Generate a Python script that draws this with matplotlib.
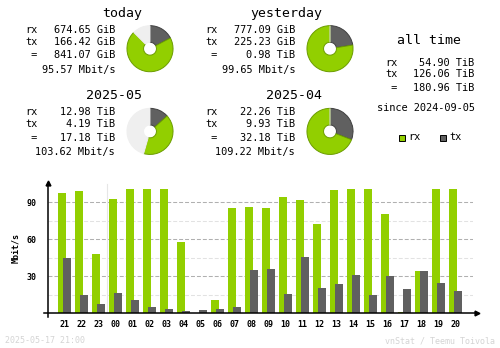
import matplotlib
matplotlib.use('Agg')
from matplotlib import pyplot as plt
import numpy as np

# summary periods
periods   = ['today', 'yesterday', '2025-05', '2025-04']
rx_vals   = [674.65, 777.09, 12.98, 22.26]
tx_vals   = [166.42, 225.23, 4.19, 9.93]
units     = ['GiB', 'GiB', 'TiB', 'TiB']
tot_vals  = [841.07, 0.98, 17.18, 32.18]
tot_units = ['GiB', 'TiB', 'TiB', 'TiB']
rates     = [95.57, 99.65, 103.62, 109.22]
elapsed   = [21/24, 1.0, (16 + 21/24)/31, 1.0]      # share of the period already passed

# all time
all_rx, all_tx, all_tot = 54.90, 126.06, 180.96
since = '2024-09-05'

# hourly average rates (Mbit/s)
hours   = ['21', '22', '23', '00', '01', '02', '03', '04', '05', '06', '07', '08',
           '09', '10', '11', '12', '13', '14', '15', '16', '17', '18', '19', '20']
rx_rate = [97.6, 99.2, 48.0, 92.7, 100.8, 100.8, 100.8, 57.8, 0.0, 10.8, 85.4, 86.2,
           85.4, 94.3, 91.9, 72.4, 100.0, 100.8, 100.8, 80.5, 1.0, 34.3, 100.8, 100.8]
tx_rate = [44.8, 14.8, 7.5, 16.5, 10.8, 5.1, 3.5, 1.9, 2.7, 3.5, 5.1, 35.1,
           35.9, 15.6, 45.7, 20.5, 23.8, 31.1, 14.8, 30.3, 19.7, 34.3, 24.6, 18.1]

C_RX, C_TX, C_RXB, C_TXB = '#92cf00', '#606060', '#6b9c00', '#404040'
C_EMPTY = '#efefef'
MONO = 'DejaVu Sans Mono'
W, H = 500, 348

fig = plt.figure(figsize=(W/100, H/100), dpi=100)
fig.patch.set_facecolor('white')

# pixel-space canvas for the text
bg = fig.add_axes([0, 0, 1, 1])
bg.set_xlim(0, W)
bg.set_ylim(H, 0)
bg.axis('off')

def txt(x, y, s, size=7.4, ha='left', **kw):
    bg.text(x, y, s, fontsize=size, ha=ha, va='baseline', family=MONO, **kw)

def pie(cx, cy, r, vals, cols, edges):
    pa = fig.add_axes([(cx - r)/W, (H - cy - r)/H, 2*r/W, 2*r/H])
    wedges, _ = pa.pie(vals, colors=cols, startangle=90, counterclock=False,
                       wedgeprops=dict(width=0.72, linewidth=0.7))
    for w, e in zip(wedges, edges):
        w.set_edgecolor(e)
    pa.set_xlim(-1.02, 1.02)
    pa.set_ylim(-1.02, 1.02)
    pa.axis('off')

for i, name in enumerate(periods):
    dx = 180 * (i % 2)
    dy = 82.7 * (i // 2)
    lx, vx = 25 + dx, 115 + dx
    txt(142 + dx, 16.6 + dy, name, size=9.5, ha='right')
    txt(lx, 32.7 + dy, 'rx')
    txt(vx, 32.7 + dy, f'{rx_vals[i]:.2f} {units[i]}', ha='right')
    txt(lx, 44.7 + dy, 'tx')
    txt(vx, 44.7 + dy, f'{tx_vals[i]:.2f} {units[i]}', ha='right')
    txt(lx, 58.3 + dy, ' =')
    txt(vx, 58.3 + dy, f'{tot_vals[i]:.2f} {tot_units[i]}', ha='right')
    txt(vx, 72.7 + dy, f'{rates[i]:.2f} Mbit/s', ha='right')

    used = elapsed[i]
    s = rx_vals[i] + tx_vals[i]
    parts = [used * tx_vals[i] / s, used * rx_vals[i] / s, 1 - used]
    pie(150 + dx, 48.7 + dy, 23.5, parts, [C_TX, C_RX, C_EMPTY], [C_TXB, C_RXB, C_EMPTY])

# all time block
txt(429, 44.3, 'all time', size=9.5, ha='center')
txt(385, 65.7, 'rx')
txt(474, 65.7, f'{all_rx:.2f} TiB', ha='right')
txt(385, 77.3, 'tx')
txt(474, 77.3, f'{all_tx:.2f} TiB', ha='right')
txt(385, 91.3, ' =')
txt(474, 91.3, f'{all_tot:.2f} TiB', ha='right')
txt(426, 111.2, f'since {since}', ha='center')

# legend
for x0, lab, c, e in [(399, 'rx', C_RX, C_RXB), (440, 'tx', C_TX, C_TXB)]:
    bg.add_patch(plt.Rectangle((x0, 134.5), 6, 6, facecolor=c, edgecolor='black', lw=0.7))
    txt(x0 + 9, 140.5, lab)

# footer
txt(5, 343.3, '2025-05-17 21:00', size=6, color='#d4d4d4')
txt(495, 343.3, 'vnStat / Teemu Toivola', size=6, ha='right', color='#d4d4d4')

# hourly bar chart
ax = fig.add_axes([48/W, (H - 313.3)/H, 425/W, 130.7/H])
ax.set_xlim(-0.97, 24.03)
ax.set_ylim(0, 106)
ax.patch.set_alpha(0)
for sp in ax.spines.values():
    sp.set_visible(False)

for v in [15, 45, 75]:
    ax.axhline(v, color='#e2e2e2', lw=0.75, ls=(0, (3.8, 1.9)), zorder=0)
for v in [30, 60, 90]:
    ax.axhline(v, color='#b0b0b0', lw=0.75, ls=(0, (3.8, 1.9)), zorder=0)

x = np.arange(len(hours))
ax.axvline(hours.index('00') - 0.5, ymax=0.99, color='#e6e6e6', lw=0.8, zorder=0)
ax.bar(x - 0.147, rx_rate, width=0.47, color=C_RX, lw=0, zorder=2)
ax.bar(x + 0.147, tx_rate, width=0.47, color=C_TX, lw=0, zorder=3)

# axes with arrow heads
ax.plot([-4/425, 1 + 4/425], [0, 0], color='black', lw=1.1, transform=ax.transAxes, clip_on=False, zorder=4)
ax.plot([0, 0], [-4/130.7, 1], color='black', lw=1.1, transform=ax.transAxes, clip_on=False, zorder=4)
ax.plot([1 + 4/425], [0], marker='>', ms=3.5, color='black', transform=ax.transAxes, clip_on=False, zorder=5)
ax.plot([0], [1], marker='^', ms=3.5, color='black', transform=ax.transAxes, clip_on=False, zorder=5)

ax.set_xticks(x)
ax.set_xticklabels(hours, family=MONO, fontsize=6, fontweight='bold')
ax.set_yticks([30, 60, 90])
ax.set_yticklabels(['30', '60', '90'], family=MONO, fontsize=6, fontweight='bold')
ax.tick_params(length=0, pad=5)
ax.tick_params(axis='y', pad=8)
ax.set_ylabel('Mbit/s', family=MONO, fontsize=6, fontweight='bold', labelpad=5)

fig.savefig('out.png', dpi=100)
